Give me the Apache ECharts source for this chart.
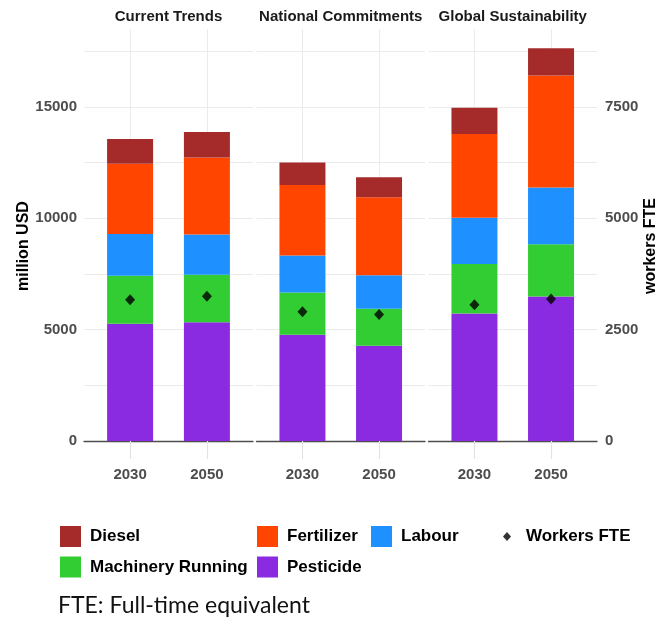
<!DOCTYPE html>
<html>
<head>
<meta charset="utf-8">
<script src="https://cdn.jsdelivr.net/npm/echarts@6/dist/echarts.min.js"></script>
<style>
  html, body { margin: 0; padding: 0; background: #ffffff; }
  #chart { width: 668px; height: 620px; }
</style>
</head>
<body>
<div id="chart"></div>
<script>
// Scenario panels and the years shown inside each panel
const scenarios = ['Current Trends', 'National Commitments', 'Global Sustainability'];
const years = ['2030', '2050'];

// Cost components in million USD, ordered scenario by scenario: [2030, 2050] per scenario
const pesticide  = [5270, 5330, 4770, 4280, 5720, 6490];
const machinery  = [2150, 2140, 1900, 1660, 2230, 2350];
const labour     = [1870, 1800, 1660, 1500, 2070, 2540];
const fertilizer = [3160, 3460, 3170, 3500, 3770, 5030];
const diesel     = [1110, 1140, 1000,  900, 1170, 1230];

// Employment in full-time equivalent workers (right axis)
const workersFTE = [3170, 3250, 2900, 2840, 3060, 3190];

// Tick values
const usdLabels = [0, 5000, 10000, 15000];
const usdGridLines = [0, 2500, 5000, 7500, 10000, 12500, 15000, 17500];
const fteLabels = [0, 2500, 5000, 7500];

// Stack order, bottom to top
const components = [
  { name: 'Pesticide',         values: pesticide,  color: '#8A2BE2' },
  { name: 'Machinery Running', values: machinery,  color: '#32CD32' },
  { name: 'Labour',            values: labour,     color: '#1E90FF' },
  { name: 'Fertilizer',        values: fertilizer, color: '#FF4500' },
  { name: 'Diesel',            values: diesel,     color: '#A52A2A' }
];

const FONT = '"Liberation Sans", Arial, Helvetica, sans-serif';
const panelBoxes = [
  { left: 84,    width: 169 },
  { left: 256.5, width: 168.5 },
  { left: 428.5, width: 168.5 }
];
const PLOT_TOP = 29, PLOT_HEIGHT = 412;
const USD_MAX = 18500, FTE_MAX = 9250;
const slot = years.map((y, j) => j + 1);   // x position of each year inside a panel
const plain = v => String(v);

const grid = panelBoxes.map(p => ({ left: p.left, width: p.width, top: PLOT_TOP, height: PLOT_HEIGHT }));

const xAxis = panelBoxes.map((p, i) => ({
  type: 'value', gridIndex: i, min: 0.4, max: 2.6,
  axisLine: { show: true, onZero: false, lineStyle: { color: '#4d4d4d', width: 1.3 } },
  axisTick: { show: true, customValues: slot, length: 18, lineStyle: { color: '#e3e3e3', width: 1.2 } },
  axisLabel: {
    customValues: slot, formatter: v => years[Math.round(v) - 1],
    margin: 26, fontFamily: FONT, fontWeight: 'bold', fontSize: 15, color: '#4d4d4d'
  },
  splitLine: { show: true, lineStyle: { color: '#ebebeb', width: 1 } }
}));

// Axis titles sit a little below the vertical middle of the panels
const nameStyle = { fontFamily: FONT, fontWeight: 'bold', fontSize: 16, color: '#000', padding: [0, 22, 0, 0] };

const yAxis = [];
panelBoxes.forEach((p, i) => {
  yAxis.push({
    type: 'value', gridIndex: i, position: 'left', min: 0, max: USD_MAX,
    name: i === 0 ? 'million USD' : '', nameLocation: 'middle', nameRotate: 90, nameGap: 44,
    nameTextStyle: nameStyle,
    axisLine: { show: false },
    axisTick: { show: false, customValues: usdGridLines },
    axisLabel: {
      show: i === 0, customValues: usdLabels, margin: 7, formatter: plain,
      fontFamily: FONT, fontWeight: 'bold', fontSize: 15, color: '#4d4d4d'
    },
    splitLine: { show: true, lineStyle: { color: '#ebebeb', width: 1 } }
  });
  yAxis.push({
    type: 'value', gridIndex: i, position: 'right', min: 0, max: FTE_MAX,
    name: i === 2 ? 'workers FTE' : '', nameLocation: 'middle', nameRotate: 90, nameGap: 43,
    nameTextStyle: nameStyle,
    axisLine: { show: false },
    axisTick: { show: false, customValues: fteLabels },
    axisLabel: {
      show: i === 2, customValues: fteLabels, margin: 8, formatter: plain,
      fontFamily: FONT, fontWeight: 'bold', fontSize: 15, color: '#4d4d4d'
    },
    splitLine: { show: false }
  });
});

const series = [];
scenarios.forEach((s, i) => {
  components.forEach(c => {
    series.push({
      type: 'bar', name: c.name, xAxisIndex: i, yAxisIndex: 2 * i, stack: 'cost' + i,
      barWidth: 46, itemStyle: { color: c.color },
      // value first so that the stack accumulates along the vertical axis
      encode: { x: 1, y: 0 },
      data: years.map((y, j) => [c.values[2 * i + j], slot[j]])
    });
  });
  series.push({
    type: 'scatter', name: 'Workers FTE', xAxisIndex: i, yAxisIndex: 2 * i + 1,
    symbol: 'diamond', symbolSize: [10, 11], z: 5,
    itemStyle: { color: '#000000' },
    data: years.map((y, j) => [slot[j], workersFTE[2 * i + j]])
  });
});

const title = scenarios.map((s, i) => ({
  text: s, left: panelBoxes[i].left + panelBoxes[i].width / 2, top: 9, textAlign: 'center',
  padding: 0,
  textStyle: { fontFamily: FONT, fontWeight: 'bold', fontSize: 15, color: '#1a1a1a' }
}));

// Legend entries laid out in two rows
const legendSpots = [
  { name: 'Diesel',            left: 60,  top: 526 },
  { name: 'Fertilizer',        left: 257, top: 526 },
  { name: 'Labour',            left: 371, top: 526 },
  { name: 'Workers FTE',       left: 503, top: 526, marker: true },
  { name: 'Machinery Running', left: 60,  top: 556.5 },
  { name: 'Pesticide',         left: 257, top: 556.5 }
];
const legend = legendSpots.map(l => ({
  data: [{ name: l.name, icon: l.marker ? 'diamond' : 'rect' }],
  left: l.left, top: l.top, padding: 0,
  itemWidth: l.marker ? 8 : 21, itemHeight: l.marker ? 9 : 21,
  selectedMode: false,
  textStyle: {
    fontFamily: FONT, fontWeight: 'bold', fontSize: 17, color: '#000', lineHeight: 21,
    padding: [0, 0, 0, l.marker ? 10 : 4]
  }
}));

const chart = echarts.init(document.getElementById('chart'), null, { renderer: 'canvas' });
chart.setOption({
  animation: false,
  backgroundColor: '#ffffff',
  title, grid, xAxis, yAxis, series, legend,
  graphic: [{
    type: 'text', left: 58, top: 594,
    style: { text: 'FTE: Full-time equivalent', font: '23px Lato, "Open Sans", sans-serif', fill: '#111' }
  }]
});
</script>
</body>
</html>
